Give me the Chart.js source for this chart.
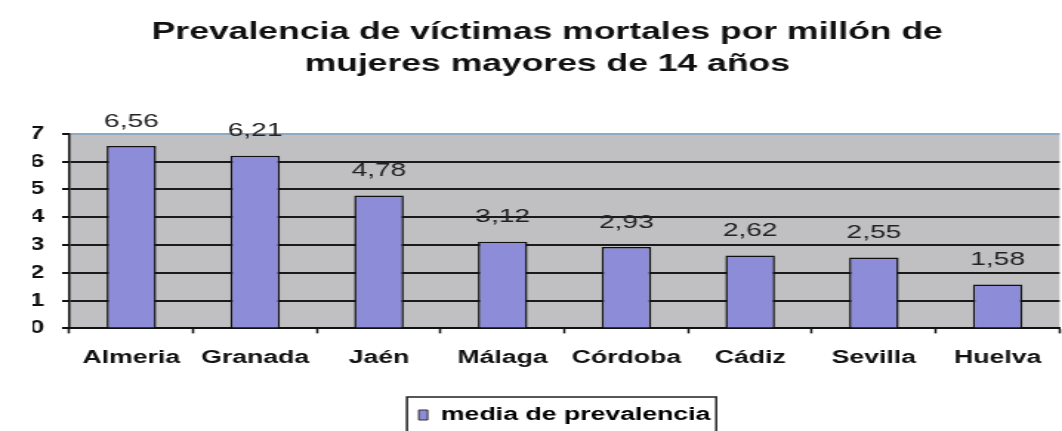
<!DOCTYPE html>
<html>
<head>
<meta charset="utf-8">
<script src="https://cdn.jsdelivr.net/npm/chart.js@4/dist/chart.umd.min.js"></script>
<style>
html,body{margin:0;padding:0;background:#fff;overflow:hidden;}
</style>
</head>
<body>
<canvas id="c" width="718" height="431" style="display:block;width:1062px;height:431px;"></canvas>
<script>
const titleLines = ['Prevalencia de víctimas mortales por millón de', 'mujeres mayores de 14 años'];
const categories = ['Almeria', 'Granada', 'Jaén', 'Málaga', 'Córdoba', 'Cádiz', 'Sevilla', 'Huelva'];
const values = [6.56, 6.21, 4.78, 3.12, 2.93, 2.62, 2.55, 1.58];
const seriesName = 'media de prevalencia';
const yMin = 0, yMax = 7, yStep = 1;

const FONT = '"Liberation Sans", Arial, sans-serif';

const plotBg = {
  id: 'plotBg',
  beforeDraw(chart) {
    const {ctx, chartArea: a} = chart;
    ctx.save();
    ctx.fillStyle = '#c0c0c3';
    ctx.fillRect(a.left, a.top, a.right - a.left, a.bottom - a.top);
    ctx.restore();
  }
};

const valueLabels = {
  id: 'valueLabels',
  afterDatasetsDraw(chart) {
    const {ctx} = chart;
    const meta = chart.getDatasetMeta(0);
    ctx.save();
    ctx.font = '19px ' + FONT;
    ctx.fillStyle = '#222';
    ctx.textAlign = 'center';
    ctx.textBaseline = 'bottom';
    meta.data.forEach((bar, i) => {
      const v = chart.data.datasets[0].data[i];
      ctx.fillText(v.toFixed(2).replace('.', ','), bar.x, bar.y - 15);
    });
    ctx.restore();
  }
};

const legendBox = {
  id: 'legendBox',
  afterDraw(chart) {
    const lg = chart.legend;
    if (!lg || !lg.legendHitBoxes || !lg.legendHitBoxes.length) return;
    const hb = lg.legendHitBoxes[0];
    const {ctx} = chart;
    ctx.save();
    ctx.strokeStyle = '#222';
    ctx.lineWidth = 1.5;
    ctx.strokeRect(hb.left - 8, hb.top - 9, hb.width + 12, hb.height + 40);
    ctx.restore();
  }
};

new Chart(document.getElementById('c'), {
  type: 'bar',
  data: {
    labels: categories,
    datasets: [{
      label: seriesName,
      data: values,
      backgroundColor: '#8c8cd8',
      borderColor: '#111',
      borderWidth: 1.5,
      barPercentage: 0.4,
      categoryPercentage: 1.0
    }]
  },
  options: {
    responsive: false,
    animation: false,
    devicePixelRatio: 1,
    layout: {padding: {left: 22, right: 0, top: 0, bottom: -3}},
    plugins: {
      title: {
        display: true,
        text: titleLines,
        color: '#111',
        font: {family: FONT, size: 24, weight: 'bold', lineHeight: 1.35},
        padding: {top: 16, bottom: 53}
      },
      legend: {
        display: true,
        position: 'bottom',
        fullSize: false,
        labels: {
          color: '#111',
          font: {family: FONT, size: 18, weight: 'bold'},
          boxWidth: 6,
          boxHeight: 10,
          padding: 23,
          generateLabels(chart) {
            const ds = chart.data.datasets[0];
            return [{text: ds.label, fillStyle: ds.backgroundColor, strokeStyle: '#333', lineWidth: 1, datasetIndex: 0}];
          }
        }
      },
      tooltip: {enabled: false}
    },
    scales: {
      x: {
        grid: {
          offset: true,
          drawOnChartArea: false,
          drawTicks: true,
          tickLength: 5,
          tickWidth: 1.5,
          tickColor: '#111'
        },
        border: {display: true, color: '#111', width: 2},
        ticks: {
          color: '#111',
          font: {family: FONT, size: 18, weight: 'bold'},
          padding: 14,
          maxRotation: 0,
          autoSkip: false
        }
      },
      y: {
        min: yMin,
        max: yMax,
        afterFit(scale) { scale.width = 25; },
        grid: {
          color: (c) => (c.tick && c.tick.value === yMax) ? '#8fa9c0' : '#1a1a1a',
          lineWidth: 2,
          drawTicks: true,
          tickLength: 5,
          tickColor: '#111'
        },
        border: {display: true, color: '#111', width: 1.5},
        ticks: {
          stepSize: yStep,
          color: '#111',
          font: {family: FONT, size: 18, weight: 'bold'},
          padding: 12
        }
      }
    }
  },
  plugins: [plotBg, valueLabels, legendBox]
});
</script>
</body>
</html>
